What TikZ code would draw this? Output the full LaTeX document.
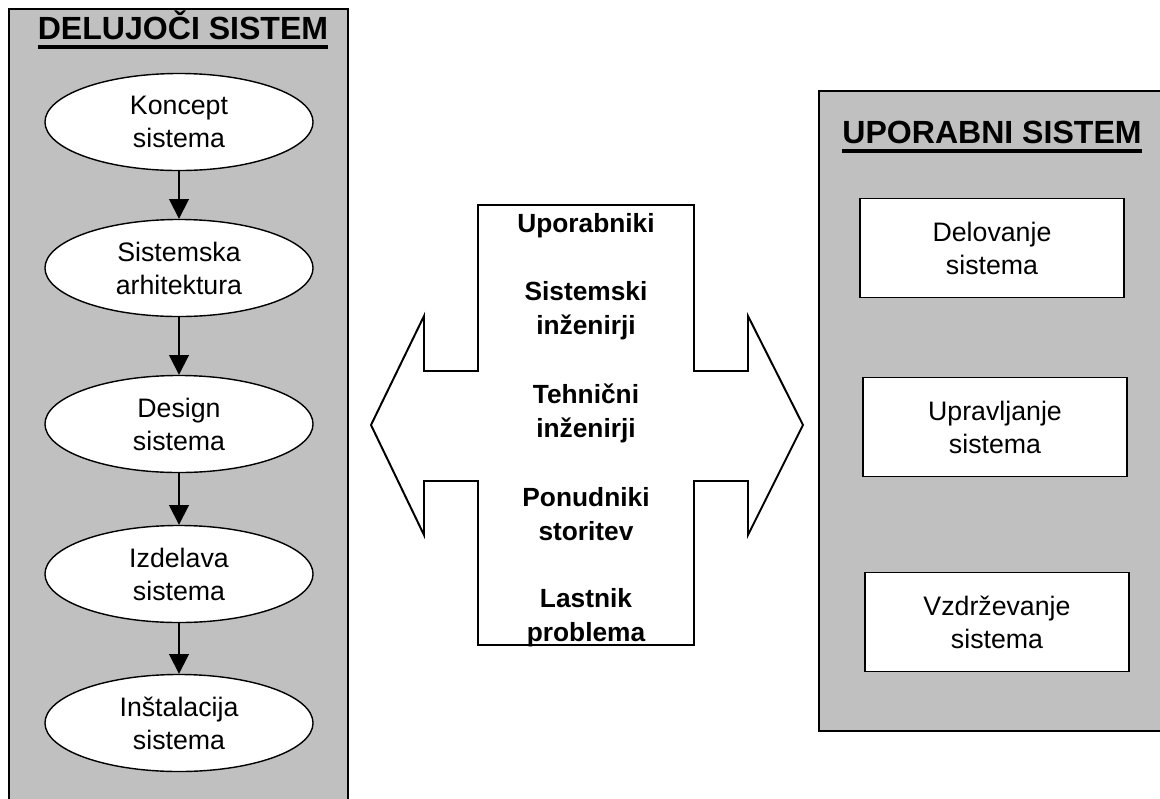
\documentclass[tikz,border=0pt]{standalone}
\usepackage{fontspec}
\setmainfont{Liberation Sans}
\usepackage{tikz}
\usetikzlibrary{arrows.meta,shapes.geometric}
\definecolor{siva}{RGB}{192,192,192}
\newcommand{\podcrtaj}[1]{\setbox0=\hbox{#1}\rlap{\rule[-0.3em]{\wd0}{0.11em}}\box0}

\begin{document}
\begin{tikzpicture}[x=0.025cm,y=-0.025cm,
   >={Triangle[length=14pt,width=14pt]},
   okvir/.style={draw,line width=1.4pt,fill=siva},
   naslov/.style={font=\fontsize{22.8}{27}\selectfont\bfseries,inner sep=0pt,anchor=base},
   faza/.style={ellipse,draw,line width=1pt,fill=white,minimum width=6.7cm,minimum height=2.425cm,
      inner sep=0pt,align=center,font=\fontsize{19}{23.5}\selectfont},
   opravilo/.style={rectangle,draw,line width=1.2pt,fill=white,minimum width=6.6cm,minimum height=2.475cm,
      inner sep=0pt,align=center,font=\fontsize{19}{23.5}\selectfont},
   vloga/.style={inner sep=0pt,align=center,font=\fontsize{18.7}{24.2}\selectfont\bfseries}]
   \useasboundingbox (0,0) rectangle (1160,798);

   \draw[okvir] (9,9) rectangle (348,830);
   \draw[okvir] (819,91) rectangle (1190,731);

   \node[naslov] (t1) at (183,39) {\podcrtaj{DELUJOČI SISTEM}};
   \node[naslov] (t2) at (992,143) {\podcrtaj{UPORABNI SISTEM}};

   \node[faza] (koncept) at (179,122) {Koncept\\sistema};
   \node[faza] (arh) at (179,268) {Sistemska\\arhitektura};
   \node[faza] (design) at (179,424) {Design\\sistema};
   \node[faza] (izdelava) at (179,574) {Izdelava\\sistema};
   \node[faza] (inst) at (179,723) {Inštalacija\\sistema};

   \draw[->,line width=1.3pt] (koncept) -- (arh);
   \draw[->,line width=1.3pt] (arh) -- (design);
   \draw[->,line width=1.3pt] (design) -- (izdelava);
   \draw[->,line width=1.3pt] (izdelava) -- (inst);

   \draw[line width=1.4pt,fill=white] (478,205) -- (694,205) -- (694,371) -- (748,371) -- (748,316)
      -- (803,425) -- (748,535) -- (748,481) -- (694,481) -- (694,645) -- (478,645) -- (478,481)
      -- (424,481) -- (424,535) -- (371,425) -- (424,316) -- (424,371) -- (478,371) -- cycle;

   \node[vloga,anchor=base] (upor) at (586,232) {Uporabniki};
   \node[vloga] (sist) at (586,311) {Sistemski\\inženirji};
   \node[vloga] (teh) at (586,413) {Tehnični\\inženirji};
   \node[vloga] (pon) at (586,514) {Ponudniki\\storitev};
   \node[vloga] (last) at (586,618) {Lastnik\\problema};

   \node[opravilo] (delov) at (992,248) {Delovanje\\sistema};
   \node[opravilo] (uprav) at (995,427) {Upravljanje\\sistema};
   \node[opravilo] (vzdrz) at (997,622) {Vzdrževanje\\sistema};
\end{tikzpicture}
\end{document}
